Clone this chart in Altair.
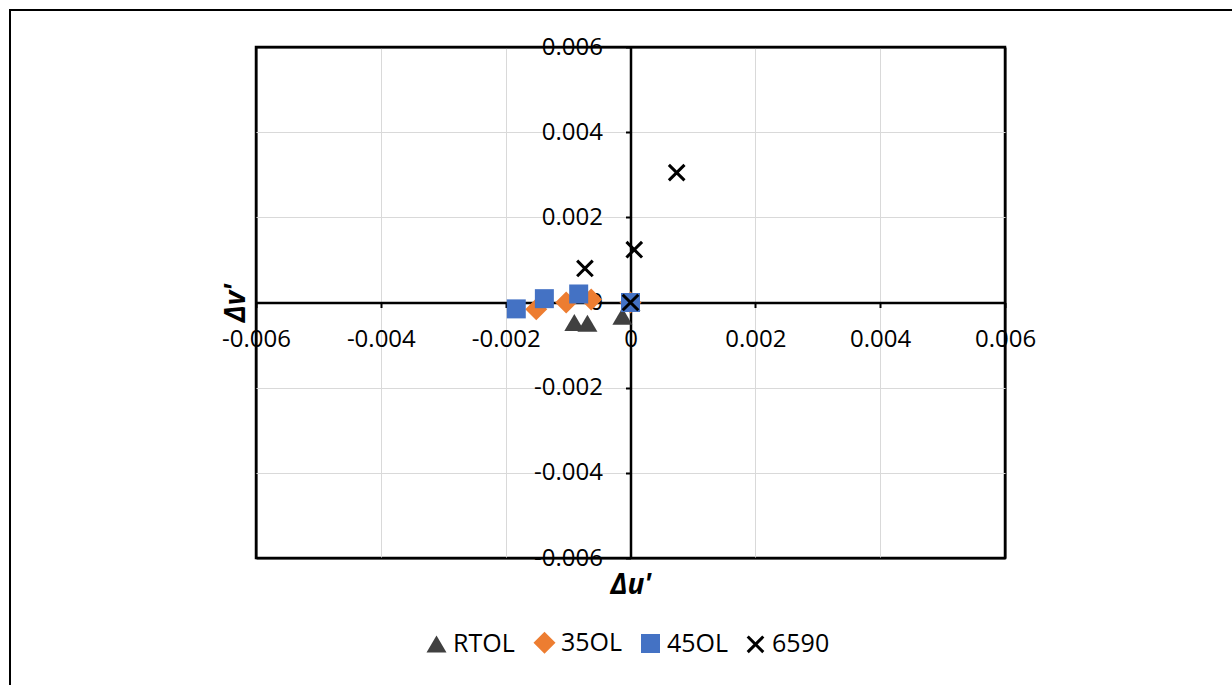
import altair as alt
import pandas as pd

series_names = ["RTOL", "35OL", "45OL", "6590"]
rtol_u = [0.0, -0.00090, -0.00069, -0.00013]
rtol_v = [0.0, -0.00047, -0.00049, -0.00032]
ol35_u = [0.0, -0.00151, -0.00103, -0.00063]
ol35_v = [0.0, -0.00016, 0.0, 0.00007]
ol45_u = [0.0, -0.00183, -0.00138, -0.00083]
ol45_v = [0.0, -0.00015, 0.00009, 0.00020]
s6590_u = [0.0, -0.00073, 0.00006, 0.00074]
s6590_v = [0.0, 0.00080, 0.00124, 0.00305]
tick_values = [-0.006, -0.004, -0.002, 0.0, 0.002, 0.004, 0.006]

fill_colors = ["#404040", "#ED7D31", "#4472C4", "#000000"]
stroke_colors = ["rgba(0,0,0,0)", "rgba(0,0,0,0)", "rgba(0,0,0,0)", "#000000"]
shapes = [
    "M0,-0.85L1.0,0.85L-1.0,0.85Z",
    "M0,-1.1L1.1,0L0,1.1L-1.1,0Z",
    "M-0.95,-0.95L0.95,-0.95L0.95,0.95L-0.95,0.95Z",
    "M-0.78,-0.78L0.78,0.78M0.78,-0.78L-0.78,0.78",
]

rows = []
for name, us, vs in [("RTOL", rtol_u, rtol_v), ("35OL", ol35_u, ol35_v),
                     ("45OL", ol45_u, ol45_v), ("6590", s6590_u, s6590_v)]:
    for u, v in zip(us, vs):
        rows.append({"series": name, "u": u, "v": v})
df = pd.DataFrame(rows)

W, H = 749, 511
FONT = "Open Sans"
label_expr = "datum.value == 0 ? '0' : (datum.value < 0 ? '-' : '') + format(abs(datum.value), '.3f')"
edge_test = "abs(datum.value) >= 0.0059"

common_axis = dict(
    values=tick_values,
    grid=True,
    gridColor={"condition": {"test": edge_test, "value": "#000000"}, "value": "#d9d9d9"},
    gridWidth={"condition": {"test": edge_test, "value": 2}, "value": 1},
    domainColor="#000000",
    domainWidth=2.5,
    tickColor="#000000",
    tickWidth=2,
    tickSize=5,
    labelFont=FONT,
    labelFontSize=24,
    labelColor="#000000",
    labelExpr=label_expr,
    labelOverlap=False,
    labelFlush=False,
    labelBound=False,
    titleFont=FONT,
    titleFontSize=28,
    titleFontWeight="bold",
    titleFontStyle="italic",
    titleColor="#000000",
    titleBaseline="middle",
    titleAlign="center",
)

x_axis = alt.Axis(
    offset=-H / 2,
    labelPadding=20,
    title="Δu'",
    titleX=W / 2,
    titleY=585 - 47 - H / 2,
    **common_axis,
)
y_axis = alt.Axis(
    offset=-W / 2,
    labelPadding=23,
    title="Δv'",
    titleX=236 - 256 - W / 2,
    titleY=H / 2,
    titleAngle=270,
    **common_axis,
)

scale_u = alt.Scale(domain=[-0.006, 0.006], nice=False, zero=False)
scale_v = alt.Scale(domain=[-0.006, 0.006], nice=False, zero=False)

points = alt.Chart(df).mark_point(filled=True, strokeWidth=3, opacity=1, size=400).encode(
    x=alt.X("u:Q", scale=scale_u, axis=x_axis),
    y=alt.Y("v:Q", scale=scale_v, axis=y_axis),
    fill=alt.Fill("series:N", scale=alt.Scale(domain=series_names, range=fill_colors),
                  legend=alt.Legend(
                      orient="none", direction="horizontal", title=None,
                      legendX=168, legendY=583,
                      labelFont=FONT, labelFontSize=25, labelColor="#000000",
                      symbolSize=400, symbolStrokeWidth=3,
                      labelOffset=4, columnPadding=12,
                  )),
    stroke=alt.Stroke("series:N", scale=alt.Scale(domain=series_names, range=stroke_colors)),
    shape=alt.Shape("series:N", scale=alt.Scale(domain=series_names, range=shapes)),
)

dummy = pd.DataFrame({"k": [0]})
top_border = alt.Chart(dummy).mark_rule(color="#000000", strokeWidth=2).encode(
    x=alt.value(-246), x2=alt.value(976), y=alt.value(-37)
)
left_border = alt.Chart(dummy).mark_rule(color="#000000", strokeWidth=2).encode(
    x=alt.value(-246), y=alt.value(-38), y2=alt.value(640)
)

chart = alt.layer(top_border, left_border, points).properties(
    width=W,
    height=H,
    autosize=alt.AutoSizeParams(type="none"),
    padding={"left": 256, "top": 47, "right": 1232 - 256 - W, "bottom": 685 - 47 - H},
    background="white",
).configure_view(stroke="#000000", strokeWidth=2.5)

chart.save("out.html", embed_options={"renderer": "svg", "actions": False})
